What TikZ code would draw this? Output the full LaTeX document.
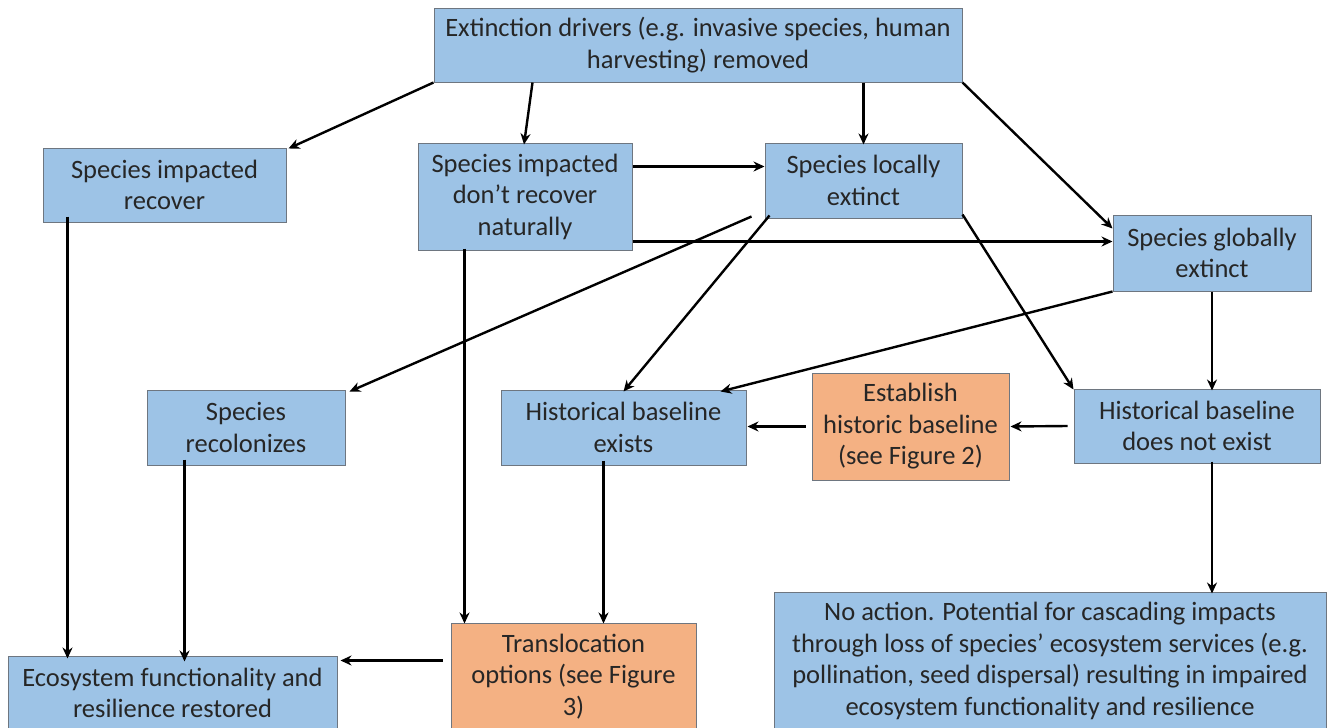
\documentclass[tikz,border=0pt]{standalone}
\usepackage{fontspec}
\setmainfont{Carlito}
\usetikzlibrary{arrows.meta,calc}
\definecolor{bluefill}{HTML}{9DC3E6}
\definecolor{orangefill}{HTML}{F4B183}
\definecolor{edgegray}{HTML}{6E7680}
\tikzset{
  box/.style={draw=edgegray, line width=1pt, fill=bluefill, inner sep=0pt, align=center,
    font=\fontsize{26.5}{31.5}\selectfont, text=black!85},
  obox/.style={box, fill=orangefill},
  arr/.style={draw=black, line width=2.4pt, -{Stealth[length=11pt,width=10pt]}}
}
\begin{document}
\begin{tikzpicture}[x=1pt,y=-1pt]
\useasboundingbox (0,0) rectangle (1328,728);
\clip (0,0) rectangle (1328,728);
\fill[white] (0,0) rectangle (1328,728);
% nodes
\node[box, minimum width=528pt, minimum height=74pt] (top) at (698,45) {Extinction drivers (e.g. invasive species, human\\harvesting) removed};
\node[box, minimum width=243pt, minimum height=74pt] (recover) at (164.5,185) {Species impacted\\recover};
\node[box, minimum width=214pt, minimum height=107pt] (dontrec) at (525,196.5) {Species impacted\\don’t recover\\naturally};
\node[box, minimum width=197pt, minimum height=75pt] (local) at (863.5,180.5) {Species locally\\extinct};
\node[box, minimum width=198pt, minimum height=76pt] (global) at (1212,253) {Species globally\\extinct};
\node[box, minimum width=198pt, minimum height=75pt] (recolon) at (246,427.5) {Species\\recolonizes};
\node[box, minimum width=245pt, minimum height=75pt] (histex) at (623.5,427.5) {Historical baseline\\exists};
\node[obox, minimum width=197pt, minimum height=107pt] (establish) at (910.5,426.5) {Establish\\historic baseline\\(see Figure 2)};
\node[box, minimum width=246pt, minimum height=74pt] (histnot) at (1197,426) {Historical baseline\\does not exist};
\node[box, minimum width=552pt, minimum height=138pt] (noaction) at (1050,661) {No action. Potential for cascading impacts\\through loss of species’ ecosystem services (e.g.\\pollination, seed dispersal) resulting in impaired\\ecosystem functionality and resilience};
\node[box, minimum width=329pt, minimum height=74pt] (ecosys) at (172.5,693) {Ecosystem functionality and\\resilience restored};
\node[obox, minimum width=245pt, minimum height=107pt] (transloc) at (573.5,676.5) {Translocation\\options (see Figure\\3)};
% connectors
\draw[arr] (top.south west) -- ([xshift=2pt,yshift=-1pt]recover.north east);
\draw[arr] ([xshift=99pt]top.south west) -- ([xshift=-1pt,yshift=-2pt]dontrec.north);
\draw[arr] (top.south -| local.north) -- ([yshift=-2pt]local.north);
\draw[arr] (top.south east) -- ([yshift=-14pt]global.north west);
\draw[arr] ([yshift=-24pt]dontrec.north east) coordinate (c5) -- (c5 -| local.west);
\draw[arr] ([yshift=9pt]dontrec.south east) coordinate (c6) -- (c6 -| global.west);
\draw[arr] ([xshift=-13pt,yshift=2pt]local.south west) -- ([xshift=4pt,yshift=-2pt]recolon.north east);
\draw[arr] ([xshift=5pt,yshift=3pt]local.south west) -- ([yshift=-2pt]histex.north);
\draw[arr] ([yshift=4pt]local.south east) -- ([yshift=-1pt]histnot.north west);
\draw[arr] (global.south west) -- ([xshift=-26pt,yshift=-2pt]histex.north east);
\draw[arr] (global.south) -- ([yshift=-2pt]global.south |- histnot.north);
\draw[arr] ([xshift=-6pt]histnot.west) -- ([xshift=1pt]establish.east);
\draw[arr] ([xshift=-6pt]establish.west) -- ([xshift=1pt]establish.west -| histex.east);
\draw[arr] ([yshift=2pt]global.south |- histnot.south) -- ([yshift=-2pt]global.south |- noaction.north);
\draw[arr] ([xshift=25pt,yshift=6pt]recover.south west) coordinate (c15) -- ([yshift=-3pt]c15 |- ecosys.north);
\draw[arr] ([xshift=38pt,yshift=6pt]recolon.south west) coordinate (c16) -- ([yshift=-6pt]c16 |- ecosys.north);
\draw[arr] ([xshift=47pt,yshift=2pt]dontrec.south west) coordinate (c17) -- ([yshift=-1pt]c17 |- transloc.north);
\draw[arr] ([xshift=-20pt,yshift=5pt]histex.south) coordinate (c18) -- ([yshift=-1pt]c18 |- transloc.north);
\draw[arr] ([xshift=-8pt,yshift=16pt]transloc.west) coordinate (c19) -- ([xshift=3pt]c19 -| ecosys.east);
\end{tikzpicture}
\end{document}
